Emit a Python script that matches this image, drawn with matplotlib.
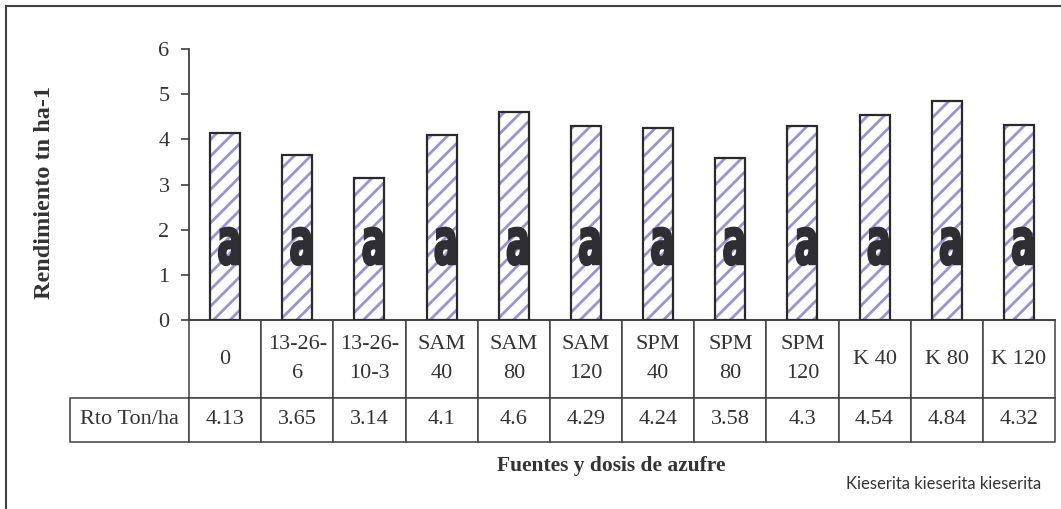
import matplotlib
matplotlib.use('Agg')
import numpy as np
import matplotlib.pyplot as plt
from matplotlib.textpath import TextPath
from matplotlib.patches import PathPatch
from matplotlib.font_manager import FontProperties
from matplotlib.transforms import Affine2D, ScaledTranslation
from matplotlib.lines import Line2D

# datos
categorias = ['0', '13-26-\n6', '13-26-\n10-3', 'SAM\n40', 'SAM\n80', 'SAM\n120',
              'SPM\n40', 'SPM\n80', 'SPM\n120', 'K 40', 'K 80', 'K 120']
rendimiento = [4.13, 3.65, 3.14, 4.1, 4.6, 4.29, 4.24, 3.58, 4.3, 4.54, 4.84, 4.32]
rendimiento_txt = ['4.13', '3.65', '3.14', '4.1', '4.6', '4.29', '4.24', '3.58',
                   '4.3', '4.54', '4.84', '4.32']
letras = ['a'] * 12
fila_label = 'Rto Ton/ha'
y_ticks = [0, 1, 2, 3, 4, 5, 6]

W, H = 1061, 509
SERIF = ['Liberation Serif', 'DejaVu Serif']
GRIS = '#404040'
LILA = '#9a92d8'

plt.rcParams['hatch.linewidth'] = 2.0

AX_W, AX_H = 866, 271  # tamaño del eje en px
fig = plt.figure(figsize=(W / 100, H / 100), dpi=100)
ax = fig.add_axes([189 / W, 1 - 320 / H, AX_W / W, AX_H / H])

x = np.arange(len(rendimiento))
ancho = 0.415

# barras: relleno rayado y luego el borde
ax.bar(x, rendimiento, width=ancho, color='white', edgecolor=LILA,
       hatch='//', linewidth=0, zorder=2)
ax.bar(x, rendimiento, width=ancho, fill=False, edgecolor='#2a2a2a',
       linewidth=1.6, zorder=3)

ax.set_xlim(-0.5, len(rendimiento) - 0.5)
ax.set_ylim(0, 6)
ax.set_xticks([])
ax.set_yticks(y_ticks)
ax.set_yticklabels([str(t) for t in y_ticks], family=SERIF, fontsize=16,
                   color='#333333')
ax.tick_params(axis='y', direction='out', length=6, width=1.2, color=GRIS, pad=8)
for s in ['top', 'right']:
    ax.spines[s].set_visible(False)
for s in ['left', 'bottom']:
    ax.spines[s].set_color(GRIS)
    ax.spines[s].set_linewidth(1.3)

# letras de significancia (estilo condensado)
fp = FontProperties(family='DejaVu Sans', weight='bold')
ext = TextPath((0, 0), 'a', size=1, prop=fp).get_extents()
w_px, h_px = 19.5, 37.0
for xi, letra in zip(x, letras):
    tp = TextPath((0, 0), letra, size=1, prop=fp)
    tr = (Affine2D().translate(-ext.x0, -ext.y0)
          .scale(w_px / ext.width, h_px / ext.height)
          .translate(-w_px - 1.5, 0)
          + ScaledTranslation(xi + ancho / 2, 1.22, ax.transData))
    ax.add_patch(PathPatch(tp, transform=tr, facecolor='#2e2e33',
                           edgecolor='#2e2e33', linewidth=1.8, clip_on=False,
                           zorder=4))

# tabla de datos debajo del eje
tabla = ax.table(cellText=[rendimiento_txt], rowLabels=[fila_label],
                 colLabels=categorias, cellLoc='center', rowLoc='center',
                 loc='bottom')
tabla.auto_set_font_size(False)
tabla.set_fontsize(16)
for (r, c), cell in tabla.get_celld().items():
    cell.set_width(119 / AX_W if c == -1 else 1 / len(categorias))
    cell.set_height((78 if r == 0 else 44) / AX_H)
    cell.set_edgecolor(GRIS)
    cell.set_linewidth(1.1)
    cell.set_clip_on(False)
    t = cell.get_text()
    t.set_fontfamily(SERIF)
    t.set_color('#333333')
    t.set_linespacing(1.7)
    t.set_clip_on(False)
tabla.set_clip_on(False)

# textos
fig.text(45 / W, 1 - 192 / H, 'Rendimiento tn ha-1', rotation=90, ha='center',
         va='center', family=SERIF, fontsize=17.5, fontweight='bold', color='#333333')
fig.text(611 / W, 1 - 466 / H, 'Fuentes y dosis de azufre', ha='center',
         va='center', family=SERIF, fontsize=15.5, fontweight='bold', color='#333333')
fig.text(944 / W, 1 - 484 / H, 'Kieserita kieserita kieserita', ha='center',
         va='center', family=['Lato', 'DejaVu Sans'], fontsize=12, color='#333333')

# marco (izquierda y arriba)
fig.add_artist(Line2D([6 / W, 6 / W], [0, 1 - 6 / H], color=GRIS, lw=1.5))
fig.add_artist(Line2D([6 / W, 1], [1 - 6 / H, 1 - 6 / H], color=GRIS, lw=1.5))

fig.savefig('out.png', dpi=100)
